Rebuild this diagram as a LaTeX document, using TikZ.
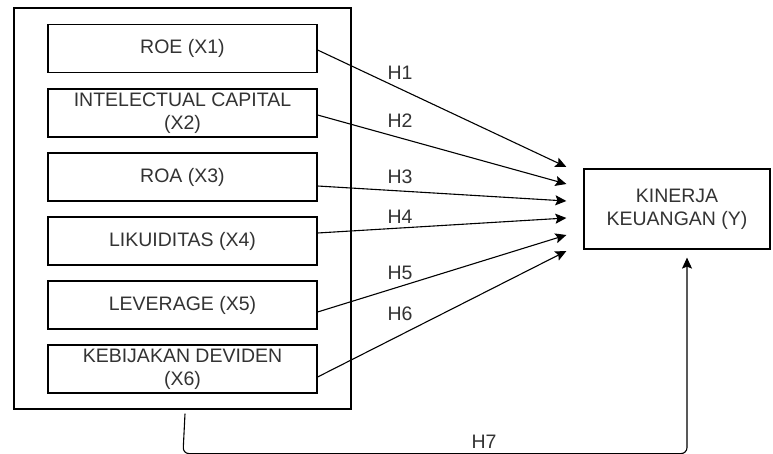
\documentclass[tikz,border=0pt]{standalone}
\usepackage{fontspec}
\setmainfont{Liberation Sans}
\usetikzlibrary{arrows.meta,calc}
\definecolor{txt}{HTML}{333333}
\tikzset{
  varbox/.style={draw=black, line width=1.2pt, minimum width=269pt, minimum height=48pt, inner sep=0pt, align=center, text=txt, font=\fontsize{19.5}{23}\selectfont},
  outerbox/.style={draw=black, line width=1.2pt, minimum width=337pt, minimum height=401pt, inner sep=0pt},
  ybox/.style={draw=black, line width=1.2pt, minimum width=186pt, minimum height=80pt, inner sep=0pt, align=center, text=txt, font=\fontsize{19.5}{23}\selectfont},
  hlab/.style={text=txt, font=\fontsize{19.5}{23}\selectfont, inner sep=0pt},
  conn/.style={draw=black, line width=1.1pt, -{Stealth[length=11pt,width=10pt,inset=2pt]}},
}
\begin{document}
\begin{tikzpicture}[x=1pt,y=-1pt]
\useasboundingbox (0,0) rectangle (773,454);
\fill[white] (0,0) rectangle (773,454);
\node[outerbox] (outer) at (182.5,208.5) {};
\node[varbox] (x1) at (182.5,48.5) {ROE (X1)};
\node[varbox] (x2) at (182.5,113) {INTELECTUAL CAPITAL\\(X2)};
\node[varbox] (x3) at (182.5,177) {ROA (X3)};
\node[varbox] (x4) at (182.5,241) {LIKUIDITAS (X4)};
\node[varbox] (x5) at (182.5,305) {LEVERAGE (X5)};
\node[varbox] (x6) at (182.5,369) {KEBIJAKAN DEVIDEN\\(X6)};
\node[ybox] (y) at (677,209) {KINERJA\\KEUANGAN (Y)};
\coordinate (e1) at ($(y.west)+(-17,-42)$);
\coordinate (e2) at ($(y.west)+(-17,-25)$);
\coordinate (e3) at ($(y.west)+(-17,-8)$);
\coordinate (e4) at ($(y.west)+(-17,9)$);
\coordinate (e5) at ($(y.west)+(-17,26)$);
\coordinate (e6) at ($(y.west)+(-17,42)$);
\draw[conn] ($(x1.east)+(0,1.5)$) -- (e1);
\draw[conn] ($(x2.east)+(0,2)$) -- (e2);
\draw[conn] ($(x3.east)+(0,9)$) -- (e3);
\draw[conn] ($(x4.east)+(0,-8)$) -- (e4);
\draw[conn] ($(x5.east)+(0,7)$) -- (e5);
\draw[conn] ($(x6.east)+(0,8)$) -- (e6);
\node[hlab] (h1) at (400,73) {H1};
\node[hlab] (h2) at (400,121) {H2};
\node[hlab] (h3) at (400,177) {H3};
\node[hlab] (h4) at (400,217) {H4};
\node[hlab] (h5) at (400,273) {H5};
\node[hlab] (h6) at (400,314) {H6};
\coordinate (b1) at ($(outer.south)+(2.5,4)$);
\draw[conn, rounded corners=6pt] (b1) -- ($(b1)+(-2,40)$) -| ($(y.south)+(10,8)$);
\node[hlab] (h7) at (484,442) {H7};
\end{tikzpicture}
\end{document}
